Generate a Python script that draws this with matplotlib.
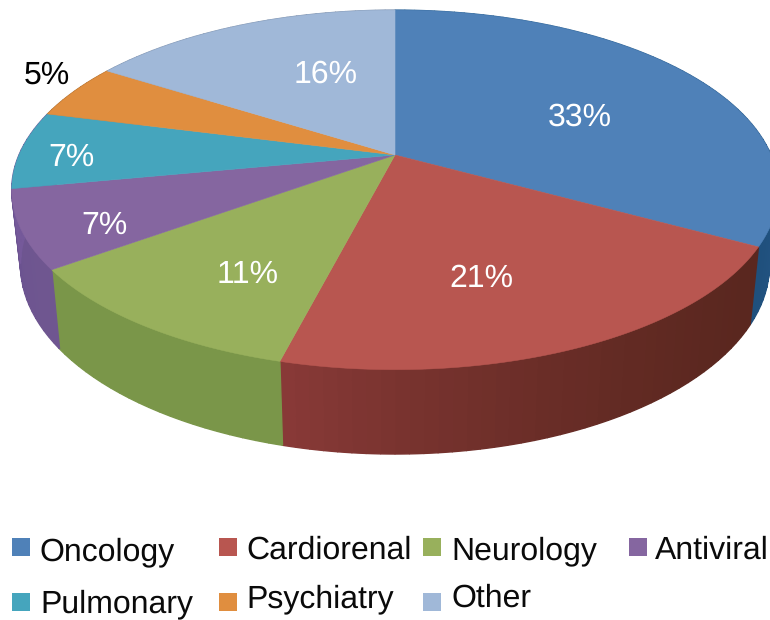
import numpy as np
import matplotlib
matplotlib.use("Agg")
import matplotlib.pyplot as plt
from matplotlib.colors import to_rgb
from matplotlib.patches import Rectangle

categories = ["Oncology", "Cardiorenal", "Neurology", "Antiviral", "Pulmonary", "Psychiatry", "Other"]
values = [33, 21, 11, 7, 7, 5, 16]

top_colors = ["#4f81b8", "#b85650", "#98b05c", "#8566a0", "#45a5bd", "#e08e3f", "#a0b8d8"]
# pulmonary wall takes the antiviral colour, only a sliver of it shows at the left edge
side_start = ["#2f6596", "#5a271f", "#7a9649", "#6f5690", "#75599a", "#a86a2c", "#7a8eaa"]
side_end = ["#1f4f7c", "#8a3a38", "#7a9649", "#6a5290", "#75599a", "#a86a2c", "#7a8eaa"]

# label centres in pixels
label_x = [580, 481, 248, 104, 71, 47, 326]
label_y = [117, 279, 275, 226, 158, 75, 74]
label_colors = ["white", "white", "white", "white", "white", "black", "white"]

# legend layout
legend_x = [12, 219, 423, 629, 12, 219, 423]
legend_box_y = [538, 538, 538, 538, 593, 593, 593]
legend_text_x = [39, 246, 451, 655, 40, 246, 451]
legend_base_y = [560, 559, 559, 559, 612, 607, 607]

# pie perspective, fitted to the slice corners
cx, cy = 395, 155
rx, ry, k = 376, 173, 0.194


def top_xy(theta):
    w = 1 + k * np.cos(theta)
    return cx + rx * np.sin(theta) / w, cy - ry * np.cos(theta) / w


def bottom_xy(theta):
    x, y = top_xy(theta)
    return cx + 0.977 * (x - cx), cy + 73 + 1.053 * (y - cy)


plt.rcParams["font.family"] = ["Liberation Sans", "DejaVu Sans"]
plt.rcParams["text.hinting"] = "no_hinting"
plt.rcParams["text.hinting_factor"] = 1
fig = plt.figure(figsize=(7.7, 6.2), dpi=100)
ax = fig.add_axes([0, 0, 1, 1])
ax.set_xlim(0, 770)
ax.set_ylim(620, 0)
ax.axis("off")

edges = np.cumsum([0] + values) / sum(values) * 2 * np.pi

# side walls first, the top covers whatever is behind
for i in range(len(values)):
    th = np.linspace(edges[i], edges[i + 1], values[i] * 2 + 1)
    c0 = np.array(to_rgb(side_start[i]))
    c1 = np.array(to_rgb(side_end[i]))
    for j in range(len(th) - 1):
        t = (j / (len(th) - 1)) ** 1.8
        col = c0 + (c1 - c0) * t
        pair = np.linspace(th[j], th[j + 1], 6)
        x0, y0 = top_xy(pair)
        x1, y1 = bottom_xy(pair)
        ax.fill(np.r_[x0, x1[::-1]], np.r_[y0, y1[::-1]], color=col, lw=1.0)

for i in range(len(values)):
    th = np.linspace(edges[i], edges[i + 1], 120)
    x, y = top_xy(th)
    ax.fill(np.r_[cx, x], np.r_[cy, y], color=top_colors[i], lw=0.4)

for i, v in enumerate(values):
    ax.text(label_x[i], label_y[i], f"{v}%", color=label_colors[i], fontsize=23.4,
            ha="center", va="center")

for i, name in enumerate(categories):
    ax.add_patch(Rectangle((legend_x[i], legend_box_y[i]), 18, 18, color=top_colors[i], lw=0))
    ax.text(legend_text_x[i], legend_base_y[i], name, color="#0a0a0a", fontsize=23.3,
            ha="left", va="baseline")

fig.savefig("out.png", dpi=100)
